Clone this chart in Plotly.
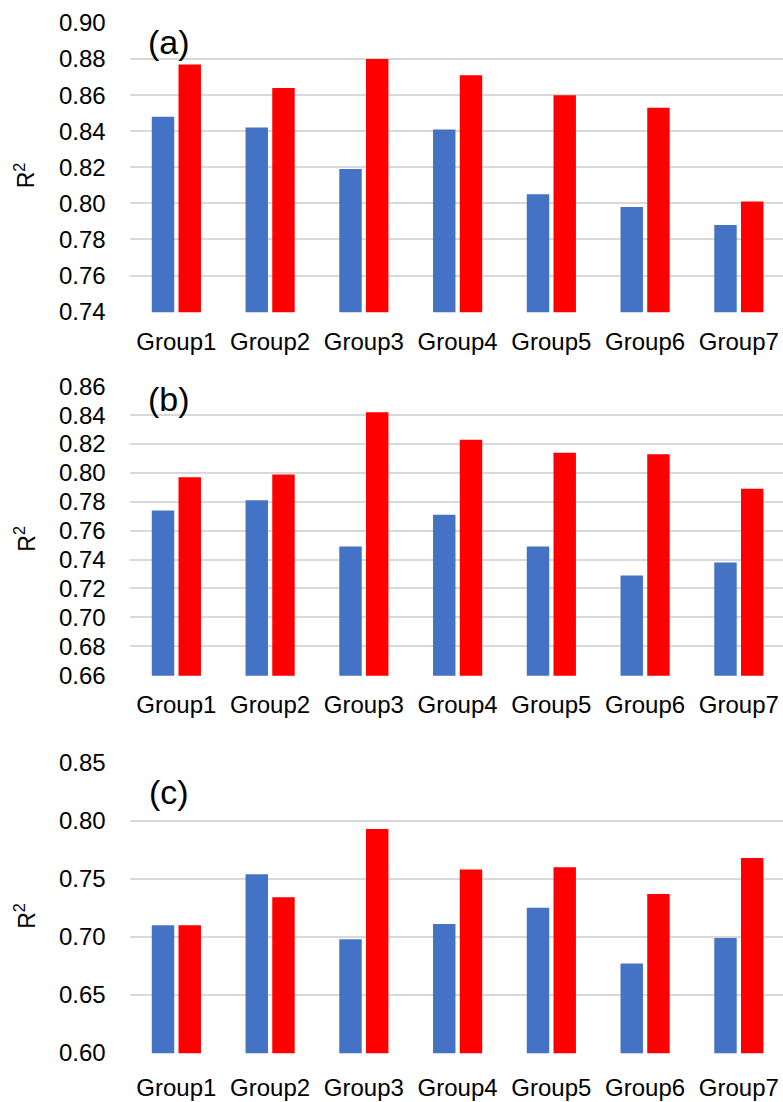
import plotly.graph_objects as go

groups = ["Group1", "Group2", "Group3", "Group4", "Group5", "Group6", "Group7"]

a_blue = [0.848, 0.842, 0.819, 0.841, 0.805, 0.798, 0.788]
a_red = [0.877, 0.864, 0.880, 0.871, 0.860, 0.853, 0.801]

b_blue = [0.774, 0.781, 0.749, 0.771, 0.749, 0.729, 0.738]
b_red = [0.797, 0.799, 0.842, 0.823, 0.814, 0.813, 0.789]

c_blue = [0.710, 0.754, 0.698, 0.711, 0.725, 0.677, 0.699]
c_red = [0.710, 0.734, 0.793, 0.758, 0.760, 0.737, 0.768]

panel_labels = ["(a)", "(b)", "(c)"]
y_title = "R<sup>2</sup>"

W, H = 783, 1102
BLUE = "#4472C4"
RED = "#FF0000"
GRID = "#D9D9D9"
FONT = "Liberation Sans, Arial, sans-serif"

# panel plot areas in pixels (top, bottom) and axis settings
panels = [
    dict(blue=a_blue, red=a_red, top=22.3, bottom=312.3, rng=(0.74, 0.90), dtick=0.02, xticklen=8),
    dict(blue=b_blue, red=b_red, top=385.7, bottom=675.7, rng=(0.66, 0.86), dtick=0.02, xticklen=7),
    dict(blue=c_blue, red=c_red, top=762.3, bottom=1053.3, rng=(0.60, 0.85), dtick=0.05, xticklen=13),
]
label_y = [42.5, 399, 791.5]
left_px = 129.5

fig = go.Figure()
layout = dict(
    width=W, height=H,
    margin=dict(l=0, r=0, t=0, b=0, autoexpand=False),
    paper_bgcolor="white", plot_bgcolor="white",
    barmode="group", bargap=0.43, bargroupgap=0.16,
    showlegend=False,
    font=dict(family=FONT, color="black"),
)
annotations = []
eps = 0.0004
for i, p in enumerate(panels):
    n = "" if i == 0 else str(i + 1)
    xa, ya = "x" + n, "y" + n
    fig.add_trace(go.Bar(x=groups, y=p["blue"], marker=dict(color=BLUE, line=dict(width=0)),
                         xaxis=xa, yaxis=ya, offsetgroup="b"))
    fig.add_trace(go.Bar(x=groups, y=p["red"], marker=dict(color=RED, line=dict(width=0)),
                         xaxis=xa, yaxis=ya, offsetgroup="r"))
    layout["xaxis" + n] = dict(
        domain=[left_px / W, 1.0], anchor=ya, range=[-0.5, 6.471],
        showgrid=False, showline=False, zeroline=False, automargin=False,
        ticks="outside", ticklen=p["xticklen"], tickcolor="rgba(0,0,0,0)",
        tickfont=dict(size=24, family=FONT, color="black"),
    )
    layout["yaxis" + n] = dict(
        domain=[1 - p["bottom"] / H, 1 - p["top"] / H], anchor=xa,
        range=[p["rng"][0] - eps, p["rng"][1] + eps],
        tick0=p["rng"][0], dtick=p["dtick"], tickformat=".2f",
        showgrid=True, gridcolor=GRID, gridwidth=1.8,
        showline=False, zeroline=False, automargin=False,
        ticks="outside", ticklen=18, tickcolor="rgba(0,0,0,0)",
        tickfont=dict(size=24, family=FONT, color="black"),
    )
    annotations.append(dict(
        text=panel_labels[i], xref="paper", yref="paper",
        x=169 / W, y=1 - label_y[i] / H, xanchor="center", yanchor="middle",
        showarrow=False, font=dict(size=34, family=FONT, color="black"),
    ))
    annotations.append(dict(
        text=y_title, xref="paper", yref="paper",
        x=25 / W, y=1 - ((p["top"] + p["bottom"]) / 2 + 8) / H, xanchor="center", yanchor="middle",
        textangle=-90, showarrow=False, font=dict(size=23, family=FONT, color="black"),
    ))
layout["annotations"] = annotations
fig.update_layout(**layout)
fig.write_html(
    "out.html",
    config={"displayModeBar": False},
    post_script="document.body.style.margin='0px';document.body.style.overflow='hidden';",
)
